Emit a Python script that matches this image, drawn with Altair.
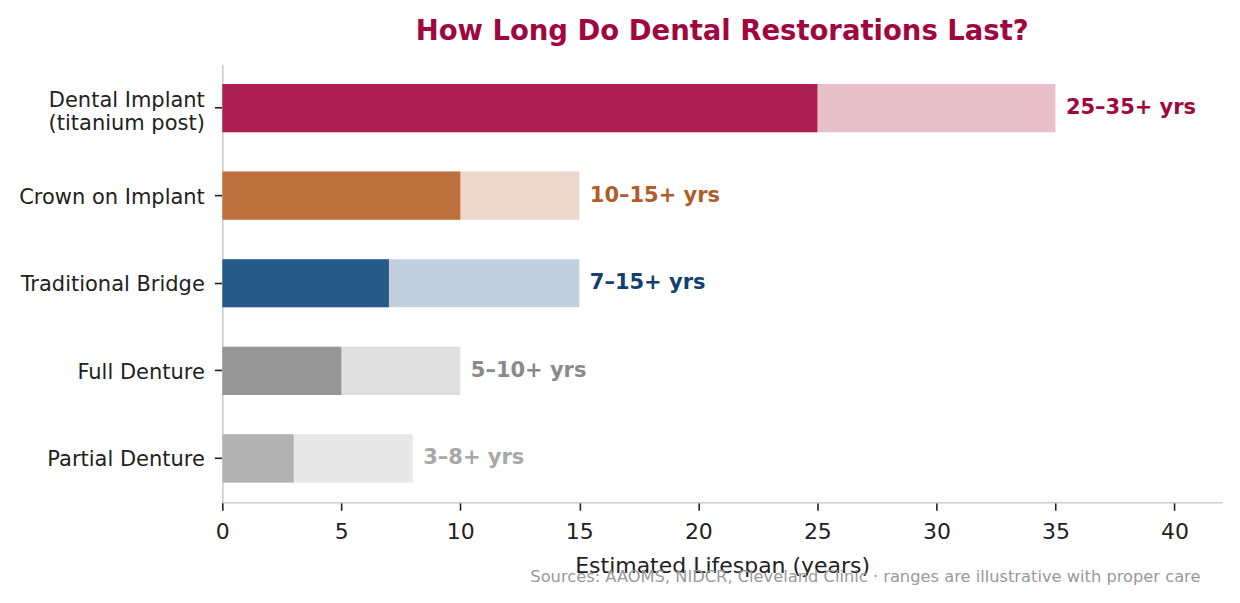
import altair as alt
import pandas as pd

categories = ["Dental Implant\n(titanium post)", "Crown on Implant", "Traditional Bridge",
              "Full Denture", "Partial Denture"]
min_years = [25, 10, 7, 5, 3]
max_years = [35, 15, 15, 10, 8]
range_labels = ["25–35+ yrs", "10–15+ yrs", "7–15+ yrs", "5–10+ yrs", "3–8+ yrs"]

dark_colors = ["#AE1F52", "#BD723E", "#265A88", "#969696", "#B2B2B2"]
light_colors = ["#E8BFCB", "#EDD6CB", "#C2D0DD", "#E0E0E0", "#E8E8E8"]
label_colors = ["#A0073F", "#B15C2A", "#13406F", "#8A8A8A", "#A8A8A8"]

title_text = "How Long Do Dental Restorations Last?"
x_title = "Estimated Lifespan (years)"
source_text = "Sources: AAOMS, NIDCR, Cleveland Clinic · ranges are illustrative with proper care"
x_ticks = [0, 5, 10, 15, 20, 25, 30, 35, 40]

df = pd.DataFrame({
    "category": categories,
    "min": min_years,
    "max": max_years,
    "label": range_labels,
})

FONT = "DejaVu Sans"

y_enc = alt.Y(
    "category:N",
    sort=categories,
    scale=alt.Scale(paddingInner=0.45, paddingOuter=0.225),
    axis=alt.Axis(
        title=None,
        labelExpr="split(datum.label, '\\n')",
        labelFontSize=21,
        labelColor="#222222",
        labelLineHeight=23,
        labelPadding=10,
        labelLimit=400,
        labelOffset={"condition": {"test": "indexof(datum.value, '\\n') >= 0", "value": -7.5}, "value": 2},
        tickSize=8,
        tickWidth=1.6,
        tickColor="#222222",
        domainColor="#CCCCCC",
        domainWidth=1.6,
        labelFont=FONT,
    ),
)

x_scale = alt.Scale(domain=[0, 42], nice=False, zero=True)
x_axis = alt.Axis(
    values=x_ticks,
    title=x_title,
    titleFontSize=22,
    titleFontWeight="normal",
    titleColor="#222222",
    titlePadding=13,
    labelFontSize=22,
    labelColor="#222222",
    labelPadding=11,
    labelFlush=False,
    tickSize=8,
    tickWidth=1.6,
    tickColor="#222222",
    domainColor="#CCCCCC",
    domainWidth=1.6,
    grid=False,
    labelFont=FONT,
    titleFont=FONT,
)

base = alt.Chart(df)

light = base.mark_bar().encode(
    x=alt.X("max:Q", scale=x_scale, axis=x_axis),
    y=y_enc,
    color=alt.Color("category:N", scale=alt.Scale(domain=categories, range=light_colors), legend=None),
)

dark = base.mark_bar().encode(
    x=alt.X("min:Q", scale=x_scale),
    y=alt.Y("category:N", sort=categories),
    color=alt.Color("category:N", scale=alt.Scale(domain=categories, range=dark_colors), legend=None),
)

text = base.mark_text(align="left", baseline="middle", dx=10.5, fontSize=21,
                      fontWeight="bold", font=FONT).encode(
    x=alt.X("max:Q", scale=x_scale),
    y=alt.Y("category:N", sort=categories),
    text="label:N",
    color=alt.Color("category:N", scale=alt.Scale(domain=categories, range=label_colors), legend=None),
)

source = alt.Chart(pd.DataFrame({"t": [source_text]})).mark_text(
    align="right", baseline="alphabetic", fontSize=16.3, color="#999999", font=FONT
).encode(
    text="t:N",
    x=alt.value(979.4),
    y=alt.value(518.5),
)

chart = alt.layer(light, dark, text, source).resolve_scale(
    color="independent"
).properties(
    width=1001,
    height=438.5,
    title=alt.TitleParams(
        text=title_text,
        fontSize=27.5,
        fontWeight="bold",
        color="#A0073F",
        font=FONT,
        anchor="middle",
        offset=19,
    ),
    autosize=alt.AutoSizeParams(type="none"),
    padding={"left": 214.6, "top": 56, "right": 10, "bottom": 90},
).configure(
    font=FONT,
    background="white",
    view=alt.ViewConfig(stroke="transparent", strokeWidth=0),
)

chart.save("out.html", embed_options={"renderer": "svg", "actions": False})
